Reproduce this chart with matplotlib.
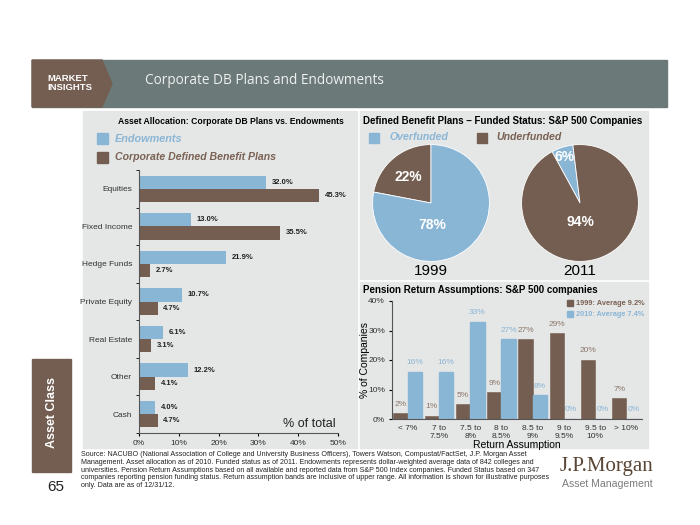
import numpy as np
import matplotlib
matplotlib.use("Agg")
import matplotlib.pyplot as plt
from matplotlib.patches import Rectangle, Polygon

# ---- data ----
asset_classes = ["Equities", "Fixed Income", "Hedge Funds", "Private Equity",
                 "Real Estate", "Other", "Cash"]
endowments = [32.0, 13.0, 21.9, 10.7, 6.1, 12.2, 4.0]
corporate_db = [45.3, 35.5, 2.7, 4.7, 3.1, 4.1, 4.7]

funded_1999 = [22, 78]     # underfunded, overfunded
funded_2011 = [6, 94]      # overfunded, underfunded

return_bands = ["< 7%", "7 to\n7.5%", "7.5 to\n8%", "8 to\n8.5%", "8.5 to\n9%",
                "9 to\n9.5%", "9.5 to\n10%", "> 10%"]
ret_1999 = [2, 1, 5, 9, 27, 29, 20, 7]
ret_2010 = [16, 16, 33, 27, 8, 0, 0, 0]

BLUE = "#8ab6d6"
BROWN = "#745e51"
PANEL = "#e5e6e6"
HEADER = "#6b7a78"
W, H = 700, 525

plt.rcParams["font.family"] = ["Liberation Sans", "DejaVu Sans"]


def px(x0, y0, x1, y1):
    return [x0 / W, 1 - y1 / H, (x1 - x0) / W, (y1 - y0) / H]


def fx(x):
    return x / W


def fy(y):
    return 1 - y / H


def box(x0, y0, x1, y1, color, z=0):
    fig.patches.append(Rectangle((fx(x0), fy(y1)), (x1 - x0) / W, (y1 - y0) / H,
                                 transform=fig.transFigure, color=color, zorder=z))


fig = plt.figure(figsize=(7, 5.25), dpi=100)
fig.patch.set_facecolor("white")

# ---- header ----
box(32, 60, 667, 107, HEADER)
fig.patches.append(Polygon([(fx(32), fy(60)), (fx(102), fy(60)), (fx(112), fy(83.5)),
                            (fx(102), fy(107)), (fx(32), fy(107))],
                           transform=fig.transFigure, color=BROWN, zorder=0.5))
fig.text(fx(47), fy(83), "MARKET\nINSIGHTS", color="white", fontsize=6.8,
         fontweight="bold", va="center", ha="left", linespacing=1.1)
fig.text(fx(145), fy(81), "Corporate DB Plans and Endowments", color="#eef1f0",
         fontsize=9.8, va="center", ha="left", family="Open Sans")

# ---- panels ----
box(83, 111, 357, 448, PANEL)
box(360, 111, 648, 279, PANEL)
box(360, 282, 648, 448, PANEL)

# ---- side tab ----
box(32, 359, 71, 472, BROWN)
fig.text(fx(52), fy(413), "Asset Class", rotation=90, color="white", fontsize=9,
         fontweight="bold", ha="center", va="center")
fig.text(fx(56), fy(487), "65", fontsize=11, ha="center", va="center", color="#222222")

# ---- left: asset allocation ----
fig.text(fx(118), fy(121), "Asset Allocation: Corporate DB Plans vs. Endowments",
         fontsize=6.2, fontweight="bold", va="center", ha="left")
box(97, 133, 108, 144, BLUE, 1)
fig.text(fx(115), fy(138.5), "Endowments", color=BLUE, fontsize=7.8, fontweight="bold",
         style="italic", va="center")
box(97, 152, 108, 163, BROWN, 1)
fig.text(fx(115), fy(157.5), "Corporate Defined Benefit Plans", color="#7a6254",
         fontsize=7.6, fontweight="bold", style="italic", va="center")

ax1 = fig.add_axes(px(139, 170, 338, 433), zorder=2)
ax1.set_facecolor("none")
y = np.arange(len(asset_classes))
bh = 0.35
b1 = ax1.barh(y - bh / 2, endowments, height=bh, color=BLUE)
b2 = ax1.barh(y + bh / 2, corporate_db, height=bh, color=BROWN)
for bars, vals in [(b1, endowments), (b2, corporate_db)]:
    for r, v in zip(bars, vals):
        ax1.annotate(f"{v:.1f}%", (r.get_width(), r.get_y() + r.get_height() / 2),
                     xytext=(4, 0), textcoords="offset points", va="center",
                     fontsize=5.5, fontweight="bold", color="#222222")
ax1.set_ylim(len(asset_classes) - 0.5, -0.5)
ax1.set_xlim(0, 50)
ax1.set_yticks(y)
ax1.set_yticklabels(asset_classes, fontsize=6, color="#333333")
ax1.set_yticks(np.arange(-0.5, len(asset_classes)), minor=True)
ax1.tick_params(axis="y", which="major", length=0, pad=5)
ax1.tick_params(axis="y", which="minor", length=2, direction="out")
ax1.set_xticks(np.arange(0, 51, 10))
ax1.set_xticklabels([f"{t}%" for t in range(0, 51, 10)], fontsize=6, color="#333333")
ax1.tick_params(axis="x", length=2, pad=3)
for s in ["top", "right"]:
    ax1.spines[s].set_visible(False)
for s in ["left", "bottom"]:
    ax1.spines[s].set_color("#555555")
    ax1.spines[s].set_linewidth(0.8)
ax1.text(0.99, 0.035, "% of total", transform=ax1.transAxes, ha="right", va="center",
         fontsize=9, color="#222222")

# ---- right top: funded status pies ----
fig.text(fx(363), fy(121), "Defined Benefit Plans \u2013 Funded Status: S&P 500 Companies",
         fontsize=7.0, fontweight="bold", va="center", ha="left")
box(369, 133, 379, 143, BLUE, 1)
fig.text(fx(389), fy(136.5), "Overfunded", color=BLUE, fontsize=7.6, fontweight="bold",
         style="italic", va="center")
box(477, 133, 487, 143, BROWN, 1)
fig.text(fx(496), fy(136.5), "Underfunded", color="#7a6254", fontsize=7.6,
         fontweight="bold", style="italic", va="center")

ax_p1 = fig.add_axes(px(372, 144, 490, 262), zorder=2)
ax_p1.pie(funded_1999, colors=[BROWN, BLUE], startangle=90, counterclock=True,
          wedgeprops=dict(edgecolor="white", linewidth=0.6))
ax_p1.set_xlim(-1.01, 1.01)
ax_p1.set_ylim(-1.01, 1.01)
ax_p1.text(-0.39, 0.44, f"{funded_1999[0]}%", color="white", fontsize=10,
           fontweight="bold", ha="center", va="center")
ax_p1.text(0.03, -0.37, f"{funded_1999[1]}%", color="white", fontsize=10,
           fontweight="bold", ha="center", va="center")
ax_p1.set_aspect("equal")
fig.text(fx(431), fy(271), "1999", fontsize=11, ha="center", va="center")

ax_p2 = fig.add_axes(px(521, 144, 639, 262), zorder=2)
ax_p2.pie(funded_2011, colors=[BLUE, BROWN], startangle=97, counterclock=True,
          wedgeprops=dict(edgecolor="white", linewidth=0.6))
ax_p2.set_xlim(-1.01, 1.01)
ax_p2.set_ylim(-1.01, 1.01)
ax_p2.text(-0.27, 0.78, f"{funded_2011[0]}%", color="white", fontsize=10,
           fontweight="bold", ha="center", va="center")
ax_p2.text(0.0, -0.33, f"{funded_2011[1]}%", color="white", fontsize=10,
           fontweight="bold", ha="center", va="center")
ax_p2.set_aspect("equal")
fig.text(fx(580), fy(271), "2011", fontsize=11, ha="center", va="center")

# ---- right bottom: return assumptions ----
fig.text(fx(363), fy(290), "Pension Return Assumptions: S&P 500 companies",
         fontsize=7.0, fontweight="bold", va="center", ha="left")
ax3 = fig.add_axes(px(392, 301, 642, 419), zorder=2)
ax3.set_facecolor("none")
xb = np.arange(len(return_bands))
bw = 0.46
r1 = ax3.bar(xb - bw / 2, ret_1999, width=bw, color=BROWN, edgecolor=BROWN, linewidth=0.4)
r2 = ax3.bar(xb + bw / 2, ret_2010, width=bw, color=BLUE, edgecolor=BLUE, linewidth=1.0)
for bars, vals, c in [(r1, ret_1999, "#8b776b"), (r2, ret_2010, BLUE)]:
    for r, v in zip(bars, vals):
        ax3.annotate(f"{v}%", (r.get_x() + r.get_width() / 2, v), xytext=(0, 4),
                     textcoords="offset points", ha="center", va="bottom",
                     fontsize=6, color=c)
ax3.set_ylim(0, 40)
ax3.set_xlim(-0.5, len(return_bands) - 0.5)
ax3.set_yticks(np.arange(0, 41, 10))
ax3.set_yticklabels([f"{t}%" for t in range(0, 41, 10)], fontsize=6, color="#333333")
ax3.set_xticks(xb)
ax3.set_xticklabels(return_bands, fontsize=6, color="#333333", linespacing=1.3)
ax3.tick_params(axis="x", length=0, pad=4)
ax3.tick_params(axis="y", length=2, pad=3)
for s in ["top", "right"]:
    ax3.spines[s].set_visible(False)
for s in ["left", "bottom"]:
    ax3.spines[s].set_color("#555555")
    ax3.spines[s].set_linewidth(0.8)
ax3.set_ylabel("% of Companies", fontsize=7.5, labelpad=-1)
ax3.set_xlabel("Return Assumption", fontsize=7.5, labelpad=0)

box(567, 300, 573, 306, BROWN, 1)
fig.text(fx(576), fy(303.5), "1999: Average 9.2%", color="#7a6254", fontsize=5.3,
         fontweight="bold", va="center")
box(567, 311, 573, 317, BLUE, 1)
fig.text(fx(576), fy(314.5), "2010: Average 7.4%", color=BLUE, fontsize=5.3,
         fontweight="bold", va="center")

# ---- footer ----
source = ("Source: NACUBO (National Association of College and University Business Officers), "
          "Towers Watson, Compustat/FactSet, J.P. Morgan Asset\n"
          "Management. Asset allocation as of 2010. Funded status as of 2011. Endowments "
          "represents dollar-weighted average data of 842 colleges and\n"
          "universities. Pension Return Assumptions based on all available and reported data "
          "from S&P 500 Index companies. Funded Status based on 347\n"
          "companies reporting pension funding status. Return assumption bands are inclusive "
          "of upper range. All information is shown for illustrative purposes\n"
          "only. Data are as of 12/31/12.")
fig.text(fx(81), fy(451), source, fontsize=5.1, va="top", ha="left", linespacing=1.15,
         color="#222222")
fig.text(fx(607), fy(467), "J.P.Morgan", fontsize=15, ha="center", va="center",
         color="#5a4636", family="Liberation Serif")
fig.text(fx(607), fy(484), "Asset Management", fontsize=7.6, ha="center", va="center",
         color="#7d7d7d")

fig.savefig("out.png", dpi=100, facecolor="white")
